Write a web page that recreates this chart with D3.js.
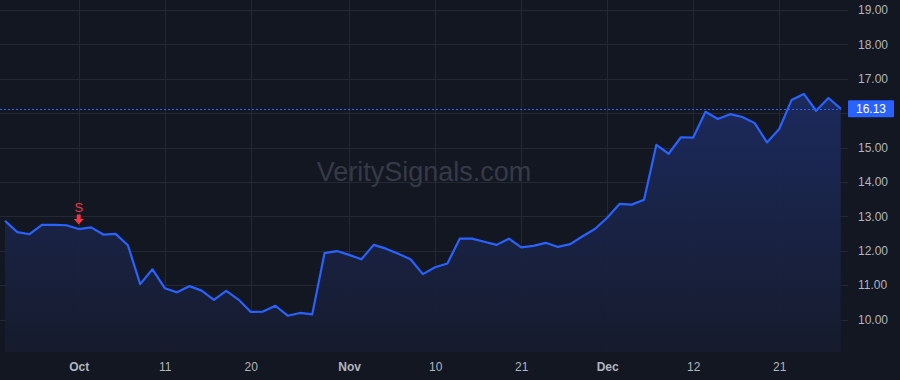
<!DOCTYPE html>
<html><head><meta charset="utf-8">
<script src="https://cdn.jsdelivr.net/npm/d3@7"></script>
<style>
html,body{margin:0;padding:0;background:#131722;}
svg{display:block;font-family:"Liberation Sans",Arial,sans-serif;}
</style></head>
<body><svg id="c" width="900" height="380"></svg>
<script>
const dates = ["2023-09-22","2023-09-25","2023-09-26","2023-09-27","2023-09-28","2023-09-29",
"2023-10-02","2023-10-03","2023-10-04","2023-10-05","2023-10-06","2023-10-09","2023-10-10","2023-10-11","2023-10-12","2023-10-13",
"2023-10-16","2023-10-17","2023-10-18","2023-10-19","2023-10-20","2023-10-23","2023-10-24","2023-10-25","2023-10-26","2023-10-27",
"2023-10-30","2023-10-31","2023-11-01","2023-11-02","2023-11-03","2023-11-06","2023-11-07","2023-11-08","2023-11-09","2023-11-10",
"2023-11-13","2023-11-14","2023-11-15","2023-11-16","2023-11-17","2023-11-20","2023-11-21","2023-11-22","2023-11-24",
"2023-11-27","2023-11-28","2023-11-29","2023-11-30","2023-12-01","2023-12-04","2023-12-05","2023-12-06","2023-12-07","2023-12-08",
"2023-12-11","2023-12-12","2023-12-13","2023-12-14","2023-12-15","2023-12-18","2023-12-19","2023-12-20","2023-12-21","2023-12-22",
"2023-12-26","2023-12-27","2023-12-28","2023-12-29"];
const prices = [12.87,12.54,12.48,12.75,12.75,12.74,
12.63,12.68,12.47,12.49,12.16,11.03,11.46,10.91,10.79,10.97,
10.84,10.57,10.83,10.58,10.22,10.23,10.40,10.11,10.19,10.15,
11.93,11.99,11.88,11.75,12.17,12.06,11.91,11.75,11.32,11.52,
11.63,12.35,12.35,12.26,12.17,12.35,12.10,12.14,12.23,
12.11,12.19,12.42,12.63,12.96,13.36,13.34,13.48,15.08,14.82,
15.30,15.29,16.04,15.83,15.97,15.89,15.71,15.15,15.54,16.38,
16.56,16.07,16.44,16.13];
const xTickDates = ["2023-10-02","2023-10-11","2023-10-20","2023-11-01","2023-11-10","2023-11-21","2023-12-01","2023-12-12","2023-12-21"];
const xTickLabels = ["Oct","11","20","Nov","10","21","Dec","12","21"];
const monthTicks = ["Oct","Nov","Dec"];
const yGrid = [10,11,12,13,14,15,16,17,18,19];
const yTickLabels = [10,11,12,13,14,15,17,18,19];
const lastPrice = 16.13;
const signalDate = "2023-10-02";
const signalLabel = "S";
const watermark = "VeritySignals.com";

const plotR=841, plotB=352, axisR=848;
const svg=d3.select("#c");
const x=d3.scalePoint().domain(dates).range([5,840.7]);
const y=d3.scaleLinear().domain([10,19]).range([319.5,10]);
const data=dates.map((d,i)=>({d,v:prices[i]}));

const defs=svg.append("defs");
const g=defs.append("linearGradient").attr("id","ag").attr("x1",0).attr("y1",0).attr("x2",0).attr("y2",1);
g.append("stop").attr("offset","0%").attr("stop-color","#1c2b60");
g.append("stop").attr("offset","100%").attr("stop-color","#161b2d");

// grid
svg.append("g").selectAll("line").data(yGrid).join("line")
 .attr("x1",0).attr("x2",axisR).attr("y1",d=>Math.round(y(d))+0.5).attr("y2",d=>Math.round(y(d))+0.5)
 .attr("stroke","#242833").attr("stroke-width",1);
svg.append("g").selectAll("line").data(xTickDates).join("line")
 .attr("x1",d=>Math.round(x(d))+0.5).attr("x2",d=>Math.round(x(d))+0.5).attr("y1",0).attr("y2",plotB)
 .attr("stroke","#242833").attr("stroke-width",1);

// watermark
svg.append("text").attr("x",424).attr("y",181).attr("text-anchor","middle")
 .attr("font-size",27).attr("fill","#363a47").attr("font-family","'Liberation Sans',Arial,sans-serif").text(watermark);

// area
svg.append("path").datum(data).attr("fill","url(#ag)").attr("opacity",0.95)
 .attr("d",d3.area().x(d=>x(d.d)).y0(plotB).y1(d=>y(d.v)));

// last price dotted line
svg.append("line").attr("x1",0).attr("x2",plotR).attr("y1",Math.round(y(lastPrice))+0.5).attr("y2",Math.round(y(lastPrice))+0.5)
 .attr("stroke","#2962ff").attr("stroke-width",1).attr("stroke-dasharray","2,2");

// line
svg.append("path").datum(data).attr("fill","none").attr("stroke","#2962ff").attr("stroke-width",2.2)
 .attr("stroke-linejoin","round")
 .attr("d",d3.line().x(d=>x(d.d)).y(d=>y(d.v)));

// signal marker
const sx=x(signalDate);
svg.append("text").attr("x",sx).attr("y",212).attr("text-anchor","middle").attr("font-size",13)
 .attr("fill","#f23645").text(signalLabel);
svg.append("path").attr("fill","#f23645")
 .attr("d",`M${sx-2},214.5 L${sx+2},214.5 L${sx+2},219 L${sx+5},219 L${sx},224.5 L${sx-5},219 L${sx-2},219 Z`);

// y axis
const yAxis=d3.axisRight(y).tickValues(yTickLabels).tickFormat(d3.format(".2f")).tickSize(0).tickPadding(0);
const ya=svg.append("g").attr("transform","translate(858,0)").call(yAxis);
ya.select(".domain").remove();
ya.selectAll("text").attr("fill","#b2b5be").attr("font-size",12).attr("font-family","'Liberation Sans',Arial,sans-serif");

// x axis
const labelMap=new Map(xTickDates.map((d,i)=>[d,xTickLabels[i]]));
const xAxis=d3.axisBottom(x).tickValues(xTickDates).tickFormat(d=>labelMap.get(d)).tickSize(0).tickPadding(0);
const xa=svg.append("g").attr("transform","translate(0,362)").call(xAxis);
xa.select(".domain").remove();
xa.selectAll("text").attr("fill","#b2b5be").attr("font-size",12).attr("font-family","'Liberation Sans',Arial,sans-serif")
 .attr("font-weight",d=>monthTicks.includes(labelMap.get(d))?"bold":"normal");

// price label
const py=y(lastPrice);
svg.append("rect").attr("x",848).attr("y",py-8.5).attr("width",46).attr("height",17).attr("rx",1).attr("fill","#2962ff");
svg.append("text").attr("x",871).attr("y",py+4.3).attr("text-anchor","middle").attr("font-size",12)
 .attr("fill","#ffffff").text(d3.format(".2f")(lastPrice));
</script></body></html>
